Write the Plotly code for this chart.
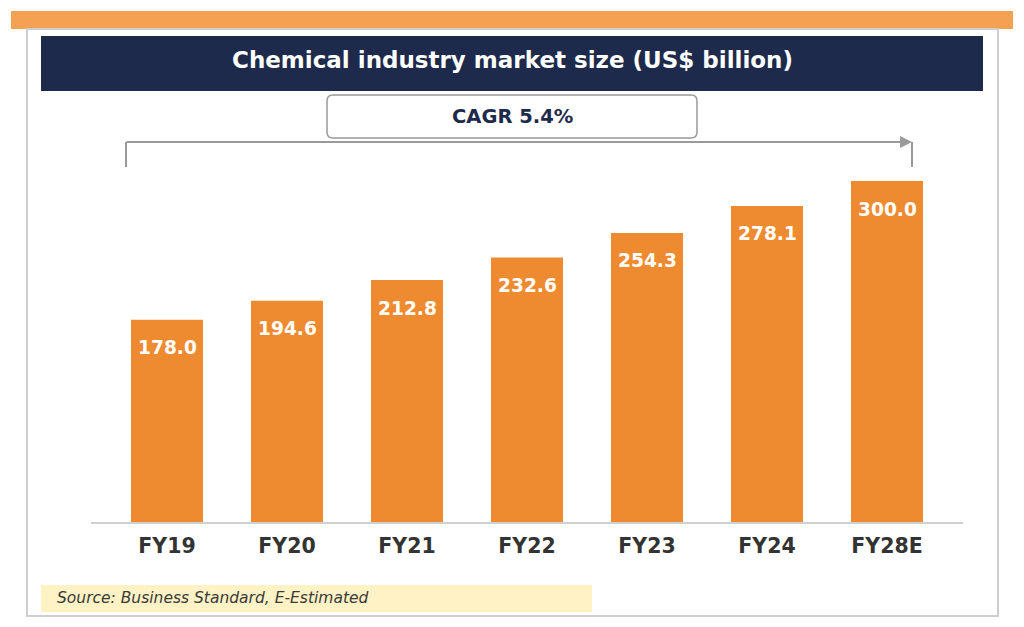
import plotly.graph_objects as go

categories = ["FY19", "FY20", "FY21", "FY22", "FY23", "FY24", "FY28E"]
values = [178.0, 194.6, 212.8, 232.6, 254.3, 278.1, 300.0]
title_text = "Chemical industry market size (US$ billion)"
cagr_text = "CAGR 5.4%"
source_text = "Source: Business Standard, E-Estimated"

W, H = 1024, 627
L, R, T, B = 91, 963, 150, 522  # plot area in pixels


def px(x):
    return (x - L) / (R - L)


def py(y):
    return (B - y) / (B - T)


FONT = "DejaVu Sans"
NAVY = "#1E2A4B"
ORANGE = "#EE8B30"
TOP_ORANGE = "#F5A154"
GRAY = "#9A9A9A"

fig = go.Figure()
fig.add_trace(go.Bar(
    x=list(range(len(categories))),
    y=values,
    width=0.6,
    marker=dict(color=ORANGE, line=dict(width=0)),
    hoverinfo="skip",
))

annotations = []
for i, v in enumerate(values):
    annotations.append(dict(
        x=i, y=v, xref="x", yref="y", text=f"<b>{v:.1f}</b>",
        showarrow=False, yshift=-28,
        font=dict(family=FONT, size=18.6, color="white"),
    ))

# rounded rectangle for CAGR box
x0, x1, y0, y1, r = 327, 697, 95, 138, 6
pts = [
    (x0 + r, y0), (x1 - r, y0), ("Q", x1, y0, x1, y0 + r), (x1, y1 - r), ("Q", x1, y1, x1 - r, y1),
    (x0 + r, y1), ("Q", x0, y1, x0, y1 - r), (x0, y0 + r), ("Q", x0, y0, x0 + r, y0),
]
path = f"M {px(pts[0][0])},{py(pts[0][1])}"
for p in pts[1:]:
    if p[0] == "Q":
        path += f" Q {px(p[1])},{py(p[2])} {px(p[3])},{py(p[4])}"
    else:
        path += f" L {px(p[0])},{py(p[1])}"
path += " Z"

shapes = [
    # top orange band
    dict(type="rect", xref="paper", yref="paper", x0=px(11), x1=px(1013), y0=py(11), y1=py(29),
         fillcolor=TOP_ORANGE, line=dict(width=0), layer="below"),
    # frame
    dict(type="rect", xref="paper", yref="paper", x0=px(27), x1=px(998), y0=py(29), y1=py(616),
         fillcolor="rgba(0,0,0,0)", line=dict(color="#CFCFCF", width=2), layer="below"),
    # title band
    dict(type="rect", xref="paper", yref="paper", x0=px(41), x1=px(983), y0=py(36), y1=py(91),
         fillcolor=NAVY, line=dict(width=0), layer="below"),
    # CAGR box
    dict(type="path", xref="paper", yref="paper", path=path,
         fillcolor="white", line=dict(color="#999999", width=1.5), layer="below"),
    # source band
    dict(type="rect", xref="paper", yref="paper", x0=px(41), x1=px(592), y0=py(585), y1=py(612),
         fillcolor="#FFF2C4", line=dict(width=0), layer="below"),
    # vertical ticks of the CAGR bracket
    dict(type="line", xref="paper", yref="paper", x0=px(126), x1=px(126), y0=py(142), y1=py(167),
         line=dict(color=GRAY, width=2)),
    dict(type="line", xref="paper", yref="paper", x0=px(912), x1=px(912), y0=py(142), y1=py(167),
         line=dict(color=GRAY, width=2)),
]

annotations += [
    dict(x=px(512), y=py(60), xref="paper", yref="paper", text=f"<b>{title_text}</b>",
         showarrow=False, font=dict(family=FONT, size=23, color="white"),
         xanchor="center", yanchor="middle"),
    dict(x=px(512), y=py(116), xref="paper", yref="paper", text=f"<b>{cagr_text}</b>",
         showarrow=False, font=dict(family=FONT, size=19.5, color=NAVY),
         xanchor="center", yanchor="middle"),
    dict(x=px(912), y=py(142), xref="paper", yref="paper", text="",
         showarrow=True, ax=-(912 - 125), ay=0, arrowhead=2, arrowsize=1.2,
         arrowwidth=2, arrowcolor=GRAY, standoff=0),
    dict(x=px(55), y=py(598), xref="paper", yref="paper", text=f"<i>{source_text}</i>",
         showarrow=False, font=dict(family=FONT, size=15.5, color="#3A3A3A"),
         xanchor="left", yanchor="middle"),
]

fig.update_layout(
    width=W, height=H,
    margin=dict(l=L, r=W - R, t=T, b=H - B, pad=0),
    paper_bgcolor="white", plot_bgcolor="white",
    showlegend=False,
    shapes=shapes,
    annotations=annotations,
    xaxis=dict(
        range=[-0.6333, 6.6333],
        tickmode="array", tickvals=list(range(len(categories))),
        ticktext=[f"<b>{c}</b>" for c in categories],
        tickfont=dict(family=FONT, size=20.5, color="#333333"),
        showline=True, linecolor="#D0D0D0", linewidth=1.5,
        showgrid=False, zeroline=False, ticks="", fixedrange=True,
        ticklabelstandoff=5,
    ),
    yaxis=dict(range=[0, (B - T) / (341 / 300)], visible=False, showgrid=False,
               zeroline=False, fixedrange=True),
)

fig.write_html("out.html", config={"displayModeBar": False})
